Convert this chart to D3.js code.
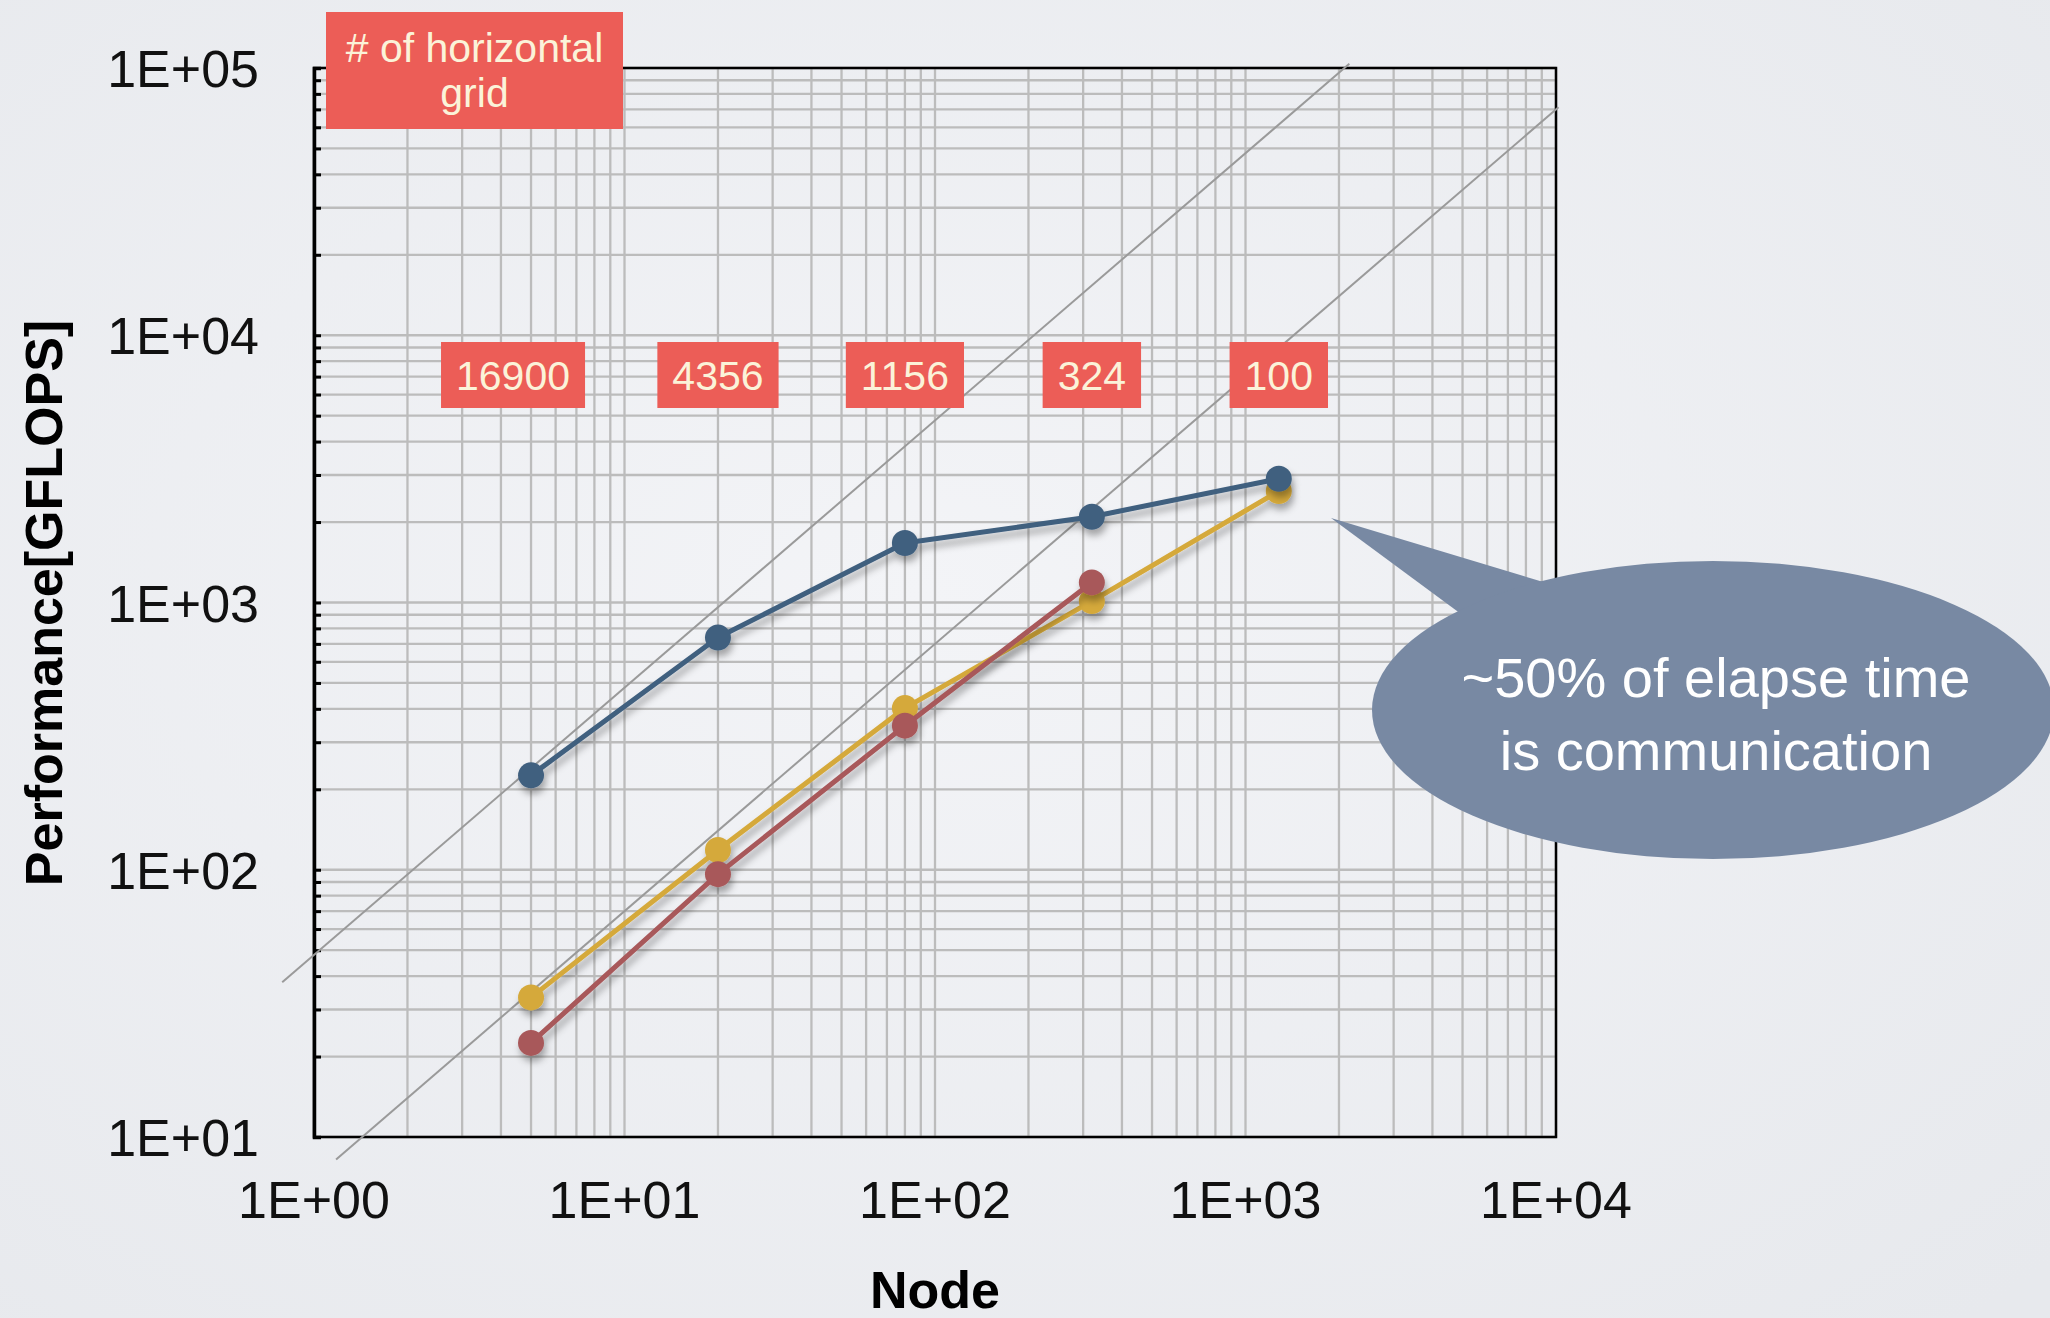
<!DOCTYPE html>
<html>
<head>
<meta charset="utf-8">
<script src="https://cdn.jsdelivr.net/npm/d3@7"></script>
<style>
  html, body { margin: 0; padding: 0; }
  body { width: 2050px; height: 1318px; overflow: hidden; background: #eceef1; }
  svg text { font-family: "Liberation Sans", Helvetica, Arial, sans-serif; }
</style>
</head>
<body>
<div id="chart"></div>
<script>
////////////// DATA //////////////
const nodes = [5, 20, 80, 320, 1280];
const gridLabels = ["16900", "4356", "1156", "324", "100"];

const seriesBlue = [225.5, 739, 1670, 2093, 2906];
const seriesYellow = [33.3, 118.6, 402.6, 1012, 2612];
const seriesRed = [22.5, 96.3, 346, 1189];

// ideal scaling lines: perf = k * node
const idealCoef = [48, 7];

const xTicks = [1, 10, 100, 1000, 10000];
const yTicks = [10, 100, 1000, 10000, 100000];
const tickText = d => "1E+0" + Math.round(Math.log10(d));

////////////// CHART //////////////
const W = 2050, H = 1318;
const margin = { left: 314, right: 2050 - 1556, top: 68, bottom: 1318 - 1137 };

const svg = d3.select("#chart").append("svg")
    .attr("width", W)
    .attr("height", H);

const defs = svg.append("defs");
const bg = defs.append("radialGradient").attr("id", "bg")
    .attr("cx", "45%").attr("cy", "45%").attr("r", "75%");
bg.append("stop").attr("offset", "0%").attr("stop-color", "#f3f4f7");
bg.append("stop").attr("offset", "100%").attr("stop-color", "#e7e9ed");

const shadow = defs.append("filter").attr("id", "shadow")
    .attr("x", "-20%").attr("y", "-20%").attr("width", "140%").attr("height", "140%");
shadow.append("feDropShadow")
    .attr("dx", 2).attr("dy", 6).attr("stdDeviation", 3.5)
    .attr("flood-color", "#000").attr("flood-opacity", 0.32);

svg.append("rect").attr("width", W).attr("height", H).attr("fill", "url(#bg)");

const x = d3.scaleLog().domain([1, 10000]).range([margin.left, W - margin.right]);
const y = d3.scaleLog().domain([10, 100000]).range([H - margin.bottom, margin.top]);

// all 1..9 x decade positions
function logGrid(lo, hi) {
    const out = [];
    for (let e = Math.log10(lo); e < Math.log10(hi); e++) {
        for (let m = 1; m <= 9; m++) out.push(m * Math.pow(10, e));
    }
    out.push(hi);
    return out;
}

const grid = svg.append("g").attr("class", "grid");
grid.selectAll("line.v")
    .data(logGrid(1, 10000))
    .enter().append("line")
    .attr("class", "v")
    .attr("x1", d => x(d)).attr("x2", d => x(d))
    .attr("y1", y(10)).attr("y2", y(100000))
    .attr("stroke", "#bcbcbc")
    .attr("stroke-width", 2.3);

grid.selectAll("line.h")
    .data(logGrid(10, 100000))
    .enter().append("line")
    .attr("class", "h")
    .attr("x1", x(1)).attr("x2", x(10000))
    .attr("y1", d => y(d)).attr("y2", d => y(d))
    .attr("stroke", "#bcbcbc")
    .attr("stroke-width", 2.3);

// frame
svg.append("rect")
    .attr("x", x(1)).attr("y", y(100000))
    .attr("width", x(10000) - x(1))
    .attr("height", y(10) - y(100000))
    .attr("fill", "none")
    .attr("stroke", "#000")
    .attr("stroke-width", 2.5);

// left axis with inward minor ticks
const yAxis = d3.axisLeft(y)
    .tickValues(logGrid(10, 100000))
    .tickSize(-7)
    .tickFormat("");
svg.append("g")
    .attr("transform", `translate(${x(1)},0)`)
    .call(yAxis)
    .call(g => g.select(".domain").attr("stroke-width", 3.5))
    .call(g => g.selectAll(".tick line").attr("stroke-width", 3));

// tick labels
svg.append("g").selectAll("text")
    .data(yTicks)
    .enter().append("text")
    .attr("x", 259)
    .attr("y", d => y(d) + 19)
    .attr("text-anchor", "end")
    .attr("font-size", 52)
    .attr("fill", "#111")
    .text(tickText);

svg.append("g").selectAll("text")
    .data(xTicks)
    .enter().append("text")
    .attr("x", d => x(d))
    .attr("y", 1218)
    .attr("text-anchor", "middle")
    .attr("font-size", 52)
    .attr("fill", "#111")
    .text(tickText);

// axis titles
svg.append("text")
    .attr("transform", "translate(62,603) rotate(-90)")
    .attr("text-anchor", "middle")
    .attr("font-size", 52)
    .attr("font-weight", "bold")
    .text("Performance[GFLOPS]");

svg.append("text")
    .attr("x", 935)
    .attr("y", 1308)
    .attr("text-anchor", "middle")
    .attr("font-size", 52)
    .attr("font-weight", "bold")
    .text("Node");

// ideal scaling lines (drawn slightly beyond frame, like the source)
const idealRanges = [[0.79, 2160], [1.178, 10190]];
svg.append("g").selectAll("line")
    .data(idealCoef)
    .enter().append("line")
    .attr("x1", (k, i) => x(idealRanges[i][0]))
    .attr("y1", (k, i) => y(k * idealRanges[i][0]))
    .attr("x2", (k, i) => x(idealRanges[i][1]))
    .attr("y2", (k, i) => y(k * idealRanges[i][1]))
    .attr("stroke", "#9a9a9a")
    .attr("stroke-width", 2);

// series
const series = [
    { values: seriesYellow, color: "#d5a93a" },
    { values: seriesRed, color: "#a8585a" },
    { values: seriesBlue, color: "#41607f" }
];

const line = d3.line()
    .x(d => x(d[0]))
    .y(d => y(d[1]));

series.forEach(s => {
    const pts = s.values.map((v, i) => [nodes[i], v]);
    const g = svg.append("g").attr("filter", "url(#shadow)");
    g.append("path")
        .datum(pts)
        .attr("d", line)
        .attr("fill", "none")
        .attr("stroke", s.color)
        .attr("stroke-width", 5)
        .attr("stroke-linejoin", "round");
    g.selectAll("circle")
        .data(pts)
        .enter().append("circle")
        .attr("cx", d => x(d[0]))
        .attr("cy", d => y(d[1]))
        .attr("r", 13)
        .attr("fill", s.color);
});

// grid-count labels
const boxColor = "#ec5d57";
const boxText = "#fbf3d9";
const labels = svg.append("g");
gridLabels.forEach((t, i) => {
    const cx = x(nodes[i]) - (i === 0 ? 18 : 0);
    const g = labels.append("g");
    const rect = g.append("rect").attr("fill", boxColor);
    const txt = g.append("text")
        .attr("x", cx)
        .attr("y", 390)
        .attr("text-anchor", "middle")
        .attr("font-size", 41)
        .attr("fill", boxText)
        .text(t);
    const w = txt.node().getComputedTextLength() + 30;
    rect.attr("x", cx - w / 2).attr("y", 342).attr("width", w).attr("height", 66);
});

// header box
const head = svg.append("g");
head.append("rect")
    .attr("x", 326).attr("y", 12)
    .attr("width", 297).attr("height", 117)
    .attr("fill", boxColor);
head.append("text")
    .attr("x", 474.5).attr("y", 62)
    .attr("text-anchor", "middle")
    .attr("font-size", 41)
    .attr("fill", boxText)
    .text("# of horizontal");
head.append("text")
    .attr("x", 474.5).attr("y", 107)
    .attr("text-anchor", "middle")
    .attr("font-size", 41)
    .attr("fill", boxText)
    .text("grid");

// speech bubble
const bubble = svg.append("g");
const bubbleColor = "#7889a3";
bubble.append("path")
    .attr("d", "M1331,518 L1560,587 L1480,628 Z")
    .attr("fill", bubbleColor);
bubble.append("ellipse")
    .attr("cx", 1713).attr("cy", 710)
    .attr("rx", 341).attr("ry", 149)
    .attr("fill", bubbleColor);
bubble.append("text")
    .attr("x", 1716).attr("y", 697)
    .attr("text-anchor", "middle")
    .attr("font-family", "Lato, 'Open Sans', sans-serif")
    .attr("font-weight", 300)
    .attr("font-size", 56)
    .attr("fill", "#fff")
    .text("~50% of elapse time");
bubble.append("text")
    .attr("x", 1716).attr("y", 770)
    .attr("text-anchor", "middle")
    .attr("font-family", "Lato, 'Open Sans', sans-serif")
    .attr("font-weight", 300)
    .attr("font-size", 56)
    .attr("fill", "#fff")
    .text("is communication");
</script>
</body>
</html>
